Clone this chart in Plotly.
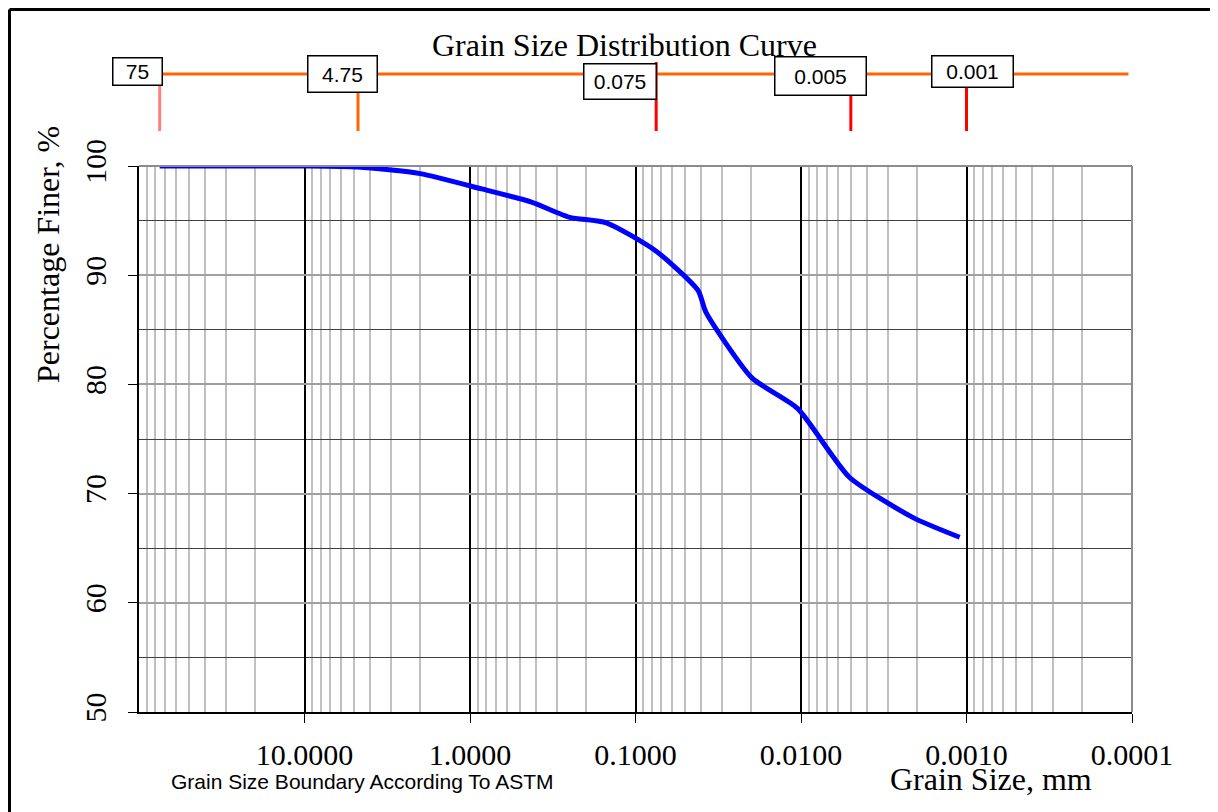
import math
import plotly.graph_objects as go

# ---------------- data ----------------
grain_size_mm = [75, 19, 9.5, 4.75, 2.0, 0.85, 0.425, 0.25, 0.15, 0.075,
                 0.0419, 0.0375, 0.0198, 0.0105, 0.0051, 0.0021, 0.0011]
percent_finer = [100, 100, 100, 99.9, 99.3, 97.9, 96.7, 95.3, 94.8, 92.2,
                 88.6, 86.6, 80.6, 77.8, 71.5, 67.8, 66.0]

x_tick_vals = [10, 1, 0.1, 0.01, 0.001, 0.0001]
x_tick_text = ["10.0000", "1.0000", "0.1000", "0.0100", "0.0010", "0.0001"]
y_tick_vals = [50, 60, 70, 80, 90, 100]

astm_bounds = [75, 4.75, 0.075, 0.005, 0.001]
astm_labels = ["75", "4.75", "0.075", "0.005", "0.001"]

# ---------------- style ----------------
SERIF = "Liberation Serif"
SANS = "Liberation Sans"
OFF = 8  # page body margin of the html page
W, H = 1218 - OFF, 812 - OFF
L = 139 - OFF
T = 166 - OFF
R = W - (1132 - OFF)
B = H - (712 - OFF)
PW, PH = W - L - R, H - T - B


def py(pix):  # page pixel row -> paper y
    return (H - B - (pix - OFF)) / PH


def px(pix):  # page pixel column -> paper x
    return (pix - OFF - L) / PW


tick_colors = ["#FF8080", "#FF6600", "#FF0000", "#FF0000", "#FF0000"]
tick_tops = [74, 74, 62, 74, 74]
box_dx = [-22, -16, -36, -30, 6]
box_cy = [72, 74, 81, 76, 72]
box_w = [44, 64, 67, 86, 76]
box_h = [22, 31, 30, 33, 26]

fig = go.Figure()
fig.add_trace(go.Scatter(
    x=grain_size_mm, y=percent_finer, mode="lines",
    line=dict(color="#0000FF", width=5, shape="spline", smoothing=0.6),
    showlegend=False, hoverinfo="x+y"))

fig.update_xaxes(
    type="log", range=[2, -4], tickvals=x_tick_vals, ticktext=x_tick_text,
    showgrid=True, gridcolor="#000000", gridwidth=2,
    minor=dict(dtick="D1", showgrid=True, gridcolor="#C0C0C0", gridwidth=1.5,
               ticks=""),
    showline=True, linecolor="#000000", linewidth=2,
    ticks="outside", ticklen=9, tickcolor="#000000", tickwidth=1,
    tickfont=dict(family=SERIF, size=30, color="#000000"),
    ticklabelstandoff=6, zeroline=False)

fig.update_yaxes(
    range=[50, 100], tickvals=y_tick_vals,
    showgrid=True, gridcolor="#A0A0A0", gridwidth=1.5,
    minor=dict(dtick=5, showgrid=True, gridcolor="#404040", gridwidth=1,
               ticks=""),
    showline=True, linecolor="#000000", linewidth=2,
    ticks="outside", ticklen=9, tickcolor="#000000", tickwidth=1,
    tickangle=-90, tickfont=dict(family=SERIF, size=30, color="#000000"),
    ticklabelstandoff=10, zeroline=False)

shapes = []
# plot-area top/right borders (gray)
shapes.append(dict(type="line", xref="paper", yref="paper", x0=0, x1=1, y0=1, y1=1,
                   line=dict(color="#8C8C8C", width=2)))
shapes.append(dict(type="line", xref="paper", yref="paper", x0=1, x1=1, y0=0, y1=1,
                   line=dict(color="#8C8C8C", width=2)))
# outer frame
shapes.append(dict(type="line", xref="paper", yref="paper", x0=px(9.5), x1=px(1217),
                   y0=py(9.5), y1=py(9.5), line=dict(color="#000000", width=3)))
shapes.append(dict(type="line", xref="paper", yref="paper", x0=px(9.5), x1=px(9.5),
                   y0=py(9.5), y1=py(830), line=dict(color="#000000", width=3)))
shapes.append(dict(type="line", xref="paper", yref="paper", x0=px(1216), x1=px(1216),
                   y0=py(9.5), y1=py(830), line=dict(color="#404040", width=2)))
# ASTM boundary scale
shapes.append(dict(type="line", xref="x", yref="paper", x0=astm_bounds[0], x1=1.05e-4,
                   y0=py(74), y1=py(74), line=dict(color="#FF6600", width=3)))
annotations = []
for b, lab, c, top, dx, cy, bw, bh in zip(astm_bounds, astm_labels, tick_colors,
                                          tick_tops, box_dx, box_cy, box_w, box_h):
    shapes.append(dict(type="line", xref="x", yref="paper", x0=b, x1=b,
                       y0=py(131), y1=py(top), line=dict(color=c, width=3)))
    annotations.append(dict(
        x=math.log10(b), y=py(cy), xref="x", yref="paper", text=lab,
        showarrow=False, xshift=dx, xanchor="center", yanchor="middle",
        width=bw, height=bh, bgcolor="#FFFFFF", bordercolor="#000000",
        borderwidth=1.5, borderpad=2,
        font=dict(family=SANS, size=21, color="#000000")))

annotations.append(dict(x=px(624), y=py(45), xref="paper", yref="paper",
                        text="Grain Size Distribution Curve", showarrow=False,
                        xanchor="center", yanchor="middle",
                        font=dict(family=SERIF, size=32, color="#000000")))
annotations.append(dict(x=px(48), y=py(255), xref="paper", yref="paper",
                        text="Percentage Finer, %", showarrow=False, textangle=-90,
                        xanchor="center", yanchor="middle",
                        font=dict(family=SERIF, size=32, color="#000000")))
annotations.append(dict(x=px(991), y=py(779), xref="paper", yref="paper",
                        text="Grain Size, mm", showarrow=False,
                        xanchor="center", yanchor="middle",
                        font=dict(family=SERIF, size=32, color="#000000")))
annotations.append(dict(x=px(362), y=py(781), xref="paper", yref="paper",
                        text="Grain Size Boundary According To ASTM", showarrow=False,
                        xanchor="center", yanchor="middle",
                        font=dict(family=SANS, size=21, color="#000000")))

fig.update_layout(
    width=W, height=H, margin=dict(l=L, r=R, t=T, b=B),
    paper_bgcolor="#FFFFFF", plot_bgcolor="#FFFFFF",
    shapes=shapes, annotations=annotations, showlegend=False)

fig.write_html("out.html")
